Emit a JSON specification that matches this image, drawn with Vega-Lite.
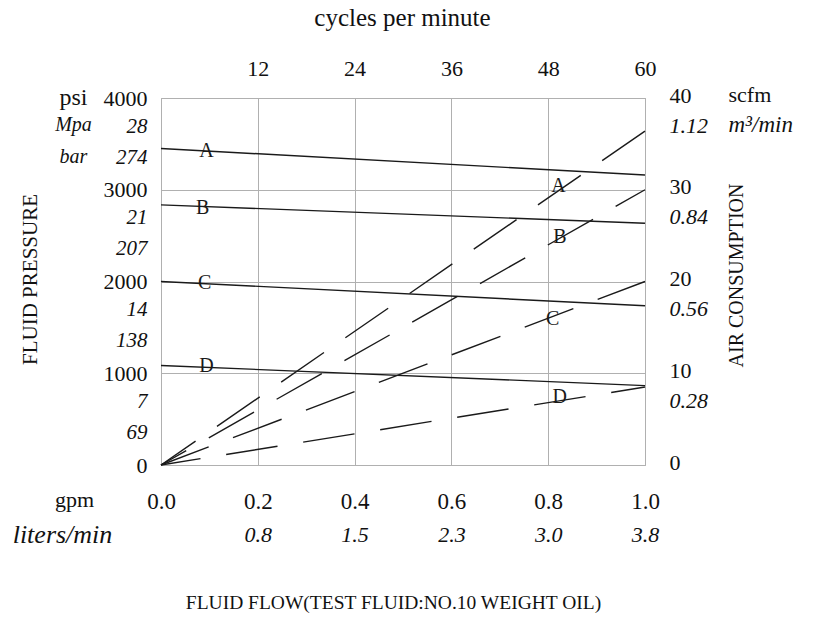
{
  "$schema": "https://vega.github.io/schema/vega-lite/v6.json",
  "width": 484,
  "height": 367,
  "autosize": "none",
  "padding": {"left": 161, "top": 98, "right": 172, "bottom": 156},
  "background": "white",
  "config": {
    "font": "Liberation Serif",
    "view": {"stroke": "#a9a9a9", "strokeWidth": 1},
    "axis": {
      "ticks": false,
      "tickSize": 0,
      "domain": false,
      "grid": false,
      "labelFlush": false,
      "labelOverlap": false,
      "labelBound": false,
      "labelColor": "#111111",
      "titleColor": "#111111",
      "labelFont": "Liberation Serif",
      "titleFont": "Liberation Serif",
      "titleFontWeight": "normal",
      "gridColor": "#b0b0b0",
      "gridWidth": 1
    }
  },
  "datasets": {
    "pressure": [
      {"series": "A", "gpm": 0, "psi": 3450},
      {"series": "A", "gpm": 1, "psi": 3160},
      {"series": "B", "gpm": 0, "psi": 2835},
      {"series": "B", "gpm": 1, "psi": 2635},
      {"series": "C", "gpm": 0, "psi": 2000},
      {"series": "C", "gpm": 1, "psi": 1735},
      {"series": "D", "gpm": 0, "psi": 1085},
      {"series": "D", "gpm": 1, "psi": 865}
    ],
    "air": [
      {"series": "A", "gpm": 0, "scfm": 0},
      {"series": "A", "gpm": 1, "scfm": 36.4},
      {"series": "B", "gpm": 0, "scfm": 0},
      {"series": "B", "gpm": 1, "scfm": 30},
      {"series": "C", "gpm": 0, "scfm": 0},
      {"series": "C", "gpm": 1, "scfm": 20},
      {"series": "D", "gpm": 0, "scfm": 0},
      {"series": "D", "gpm": 1, "scfm": 8.5}
    ],
    "pressureLabels": [
      {"series": "A", "gpm": 0.094, "psi": 3417},
      {"series": "B", "gpm": 0.086, "psi": 2801},
      {"series": "C", "gpm": 0.09, "psi": 1989},
      {"series": "D", "gpm": 0.094, "psi": 1079}
    ],
    "airLabels": [
      {"series": "A", "gpm": 0.821, "scfm": 30.4},
      {"series": "B", "gpm": 0.824, "scfm": 24.85},
      {"series": "C", "gpm": 0.809, "scfm": 15.9},
      {"series": "D", "gpm": 0.824, "scfm": 7.4}
    ]
  },
  "resolve": {
    "scale": {"y": "independent"},
    "axis": {"x": "independent", "y": "independent"}
  },
  "layer": [
    {
      "data": {"name": "pressure"},
      "mark": {"type": "line", "color": "#1a1a1a", "strokeWidth": 1.4},
      "encoding": {
        "x": {
          "field": "gpm", "type": "quantitative",
          "scale": {"domain": [0, 1], "nice": false, "zero": false},
          "axis": {
            "orient": "bottom", "values": [0, 0.2, 0.4, 0.6, 0.8, 1], "format": ".1f",
            "grid": true, "labelFontSize": 23, "labelPadding": 36, "labelBaseline": "middle",
            "title": "gpm", "titleFontSize": 22, "titleX": -87, "titleY": 34,
            "titleAlign": "center", "titleBaseline": "middle"
          }
        },
        "y": {
          "field": "psi", "type": "quantitative",
          "scale": {"domain": [0, 4000], "nice": false, "zero": false},
          "axis": {
            "orient": "left", "values": [0, 1000, 2000, 3000, 4000], "format": "d",
            "grid": true, "labelFontSize": 22, "labelPadding": 14, "labelBaseline": "middle",
            "title": "psi", "titleFontSize": 24, "titleAngle": 0, "titleX": -88, "titleY": -1,
            "titleAlign": "center", "titleBaseline": "middle"
          }
        },
        "detail": {"field": "series"}
      }
    },
    {
      "data": {"name": "pressureLabels"},
      "mark": {"type": "text", "fontSize": 20, "color": "#1a1a1a", "align": "center", "baseline": "middle"},
      "encoding": {
        "x": {
          "field": "gpm", "type": "quantitative",
          "scale": {"domain": [0, 1], "nice": false, "zero": false},
          "axis": {
            "orient": "bottom", "values": [0.2, 0.4, 0.6, 0.8, 1],
            "labelExpr": "format(datum.value * 3.785, '.1f')",
            "labelFontStyle": "italic", "labelFontSize": 22, "labelPadding": 69, "labelBaseline": "middle",
            "title": "liters/min", "titleFontStyle": "italic", "titleFontSize": 26,
            "titleX": -99, "titleY": 69, "titleAlign": "center", "titleBaseline": "middle"
          }
        },
        "y": {
          "field": "psi", "type": "quantitative",
          "scale": {"domain": [0, 4000], "nice": false, "zero": false},
          "axis": {
            "orient": "left", "values": [1000, 2000, 3000, 4000],
            "labelExpr": "datum.value == 4000 ? ['28', '274'] : datum.value == 3000 ? ['21', '207'] : datum.value == 2000 ? ['14', '138'] : ['7', '69']",
            "labelFontStyle": "italic", "labelFontSize": 21, "labelLineHeight": 31,
            "labelPadding": 14, "labelBaseline": "middle", "labelOffset": 28,
            "title": ["Mpa", "bar"], "titleFontStyle": "italic", "titleFontSize": 20, "titleLineHeight": 32,
            "titleAngle": 0, "titleX": -88, "titleY": 26, "titleAlign": "center", "titleBaseline": "middle"
          }
        },
        "text": {"field": "series"}
      }
    },
    {
      "data": {"name": "air"},
      "transform": [{"filter": "datum.series == 'A'"}],
      "mark": {"type": "line", "color": "#1a1a1a", "strokeWidth": 1.4, "strokeDash": [52, 26], "strokeDashOffset": 10},
      "encoding": {
        "x": {
          "field": "gpm", "type": "quantitative",
          "scale": {"domain": [0, 1], "nice": false, "zero": false},
          "axis": {
            "orient": "top", "values": [0.2, 0.4, 0.6, 0.8, 1],
            "labelExpr": "format(round(datum.value * 60), 'd')",
            "labelFontSize": 22, "labelPadding": 30, "labelBaseline": "middle",
            "title": "cycles per minute", "titleFontSize": 25,
            "titleX": 241, "titleY": -81, "titleAlign": "center", "titleBaseline": "middle"
          }
        },
        "y": {
          "field": "scfm", "type": "quantitative",
          "scale": {"domain": [0, 40], "nice": false, "zero": false},
          "axis": {
            "orient": "right", "values": [0, 10, 20, 30, 40], "format": "d",
            "labelFontSize": 22, "labelPadding": 24, "labelAlign": "left", "labelBaseline": "middle", "labelOffset": -3,
            "title": "scfm", "titleFontSize": 22, "titleAngle": 0, "titleX": 83, "titleY": -4,
            "titleAlign": "left", "titleBaseline": "middle"
          }
        }
      }
    },
    {
      "data": {"name": "air"},
      "transform": [{"filter": "datum.series == 'B'"}],
      "mark": {"type": "line", "color": "#1a1a1a", "strokeWidth": 1.4, "strokeDash": [52, 26], "strokeDashOffset": 23},
      "encoding": {
        "x": {
          "field": "gpm", "type": "quantitative",
          "scale": {"domain": [0, 1], "nice": false, "zero": false},
          "axis": {
            "orient": "bottom", "labels": false, "grid": false,
            "title": "FLUID FLOW(TEST FLUID:NO.10 WEIGHT OIL)", "titleFontSize": 19.5,
            "titleX": 232, "titleY": 137, "titleAlign": "center", "titleBaseline": "middle"
          }
        },
        "y": {
          "field": "scfm", "type": "quantitative",
          "scale": {"domain": [0, 40], "nice": false, "zero": false},
          "axis": {
            "orient": "right", "labels": false, "grid": false,
            "title": "AIR CONSUMPTION", "titleFontSize": 20, "titleAngle": 270,
            "titleX": 91, "titleY": 177, "titleAlign": "center", "titleBaseline": "middle"
          }
        }
      }
    },
    {
      "data": {"name": "air"},
      "transform": [{"filter": "datum.series == 'C'"}],
      "mark": {"type": "line", "color": "#1a1a1a", "strokeWidth": 1.4, "strokeDash": [52, 26], "strokeDashOffset": 1},
      "encoding": {
        "x": {
          "field": "gpm", "type": "quantitative",
          "scale": {"domain": [0, 1], "nice": false, "zero": false},
          "axis": null
        },
        "y": {
          "field": "scfm", "type": "quantitative",
          "scale": {"domain": [0, 40], "nice": false, "zero": false},
          "axis": {
            "orient": "left", "labels": false, "grid": false,
            "title": "FLUID PRESSURE", "titleFontSize": 21, "titleAngle": 270,
            "titleX": -131, "titleY": 181, "titleAlign": "center", "titleBaseline": "middle"
          }
        }
      }
    },
    {
      "data": {"name": "air"},
      "transform": [{"filter": "datum.series == 'D'"}],
      "mark": {"type": "line", "color": "#1a1a1a", "strokeWidth": 1.4, "strokeDash": [52, 26], "strokeDashOffset": 12},
      "encoding": {
        "x": {
          "field": "gpm", "type": "quantitative",
          "scale": {"domain": [0, 1], "nice": false, "zero": false},
          "axis": null
        },
        "y": {
          "field": "scfm", "type": "quantitative",
          "scale": {"domain": [0, 40], "nice": false, "zero": false},
          "axis": null
        }
      }
    },
    {
      "data": {"name": "airLabels"},
      "mark": {"type": "text", "fontSize": 20, "color": "#1a1a1a", "align": "center", "baseline": "middle"},
      "encoding": {
        "x": {
          "field": "gpm", "type": "quantitative",
          "scale": {"domain": [0, 1], "nice": false, "zero": false},
          "axis": null
        },
        "y": {
          "field": "scfm", "type": "quantitative",
          "scale": {"domain": [0, 40], "nice": false, "zero": false},
          "axis": {
            "orient": "right", "values": [10, 20, 30, 40],
            "labelExpr": "format(datum.value * 0.028, '.2f')",
            "labelFontStyle": "italic", "labelFontSize": 22, "labelPadding": 24, "labelAlign": "left",
            "labelBaseline": "middle", "labelOffset": 27,
            "title": "m³/min", "titleFontStyle": "italic", "titleFontSize": 23, "titleAngle": 0,
            "titleX": 83, "titleY": 26, "titleAlign": "left", "titleBaseline": "middle"
          }
        },
        "text": {"field": "series"}
      }
    }
  ]
}
